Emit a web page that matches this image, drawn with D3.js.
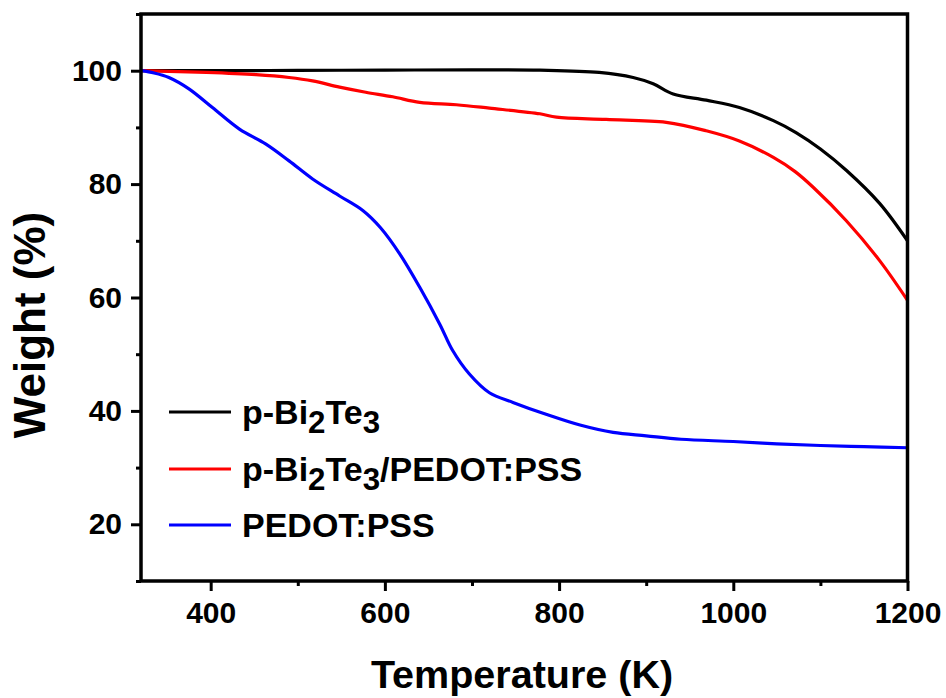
<!DOCTYPE html>
<html>
<head>
<meta charset="utf-8">
<script src="https://cdn.jsdelivr.net/npm/d3@7"></script>
<style>
  html, body { margin: 0; padding: 0; background: #fff; }
  svg { display: block; font-family: "Liberation Sans", Arial, sans-serif; font-weight: bold; }
</style>
</head>
<body>
<svg id="chart" width="946" height="698"></svg>
<script>
// TGA weight-loss curves (Weight % vs temperature in K)
const tempBi2Te3 = [320, 400, 500, 600, 700, 778, 846, 885, 908, 931, 969, 1007, 1046, 1072, 1100, 1130, 1168, 1200];
const weightBi2Te3 = [100, 100, 100.05, 100.1, 100.15, 100.1, 99.7, 98.8, 97.7, 95.9, 94.8, 93.5, 91.2, 89.1, 86.2, 82.4, 76.6, 70.0];

const tempComposite = [320, 395, 452, 490, 517, 548, 578, 609, 640, 682, 720, 778, 797, 854, 923, 969, 1007, 1046, 1071, 1092, 1130, 1168, 1200];
const weightComposite = [100, 99.7, 99.3, 98.8, 98.2, 97.1, 96.2, 95.4, 94.4, 94.0, 93.4, 92.4, 91.8, 91.4, 90.9, 89.4, 87.6, 84.7, 82.2, 79.4, 73.5, 66.5, 59.5];

const tempPedot = [320, 335, 352, 375, 402, 433, 463, 490, 517, 548, 575, 595, 617, 640, 663, 678, 697, 720, 747, 785, 824, 862, 900, 940, 1000, 1050, 1100, 1150, 1200];
const weightPedot = [100, 99.6, 98.8, 96.8, 93.5, 89.7, 87.1, 84.1, 80.9, 77.9, 75.3, 72.3, 67.7, 61.8, 55.3, 50.6, 46.5, 43.2, 41.5, 39.4, 37.5, 36.2, 35.6, 35.0, 34.6, 34.2, 33.9, 33.7, 33.5];

const seriesNames = ["p-Bi2Te3", "p-Bi2Te3/PEDOT:PSS", "PEDOT:PSS"];
const seriesColors = ["#000000", "#ff0000", "#0000ff"];

const xMajorTicks = [400, 600, 800, 1000, 1200];
const xMinorTicks = [500, 700, 900, 1100];
const yMajorTicks = [20, 40, 60, 80, 100];
const yMinorTicks = [10, 30, 50, 70, 90, 110];

const series = [
  { name: seriesNames[0], color: seriesColors[0], pts: tempBi2Te3.map((t, i) => [t, weightBi2Te3[i]]) },
  { name: seriesNames[1], color: seriesColors[1], pts: tempComposite.map((t, i) => [t, weightComposite[i]]) },
  { name: seriesNames[2], color: seriesColors[2], pts: tempPedot.map((t, i) => [t, weightPedot[i]]) }
];

const svg = d3.select("#chart");
const plotLeft = 141, plotRight = 907.5, plotTop = 14, plotBottom = 581;

const x = d3.scaleLinear().domain([320, 1200]).range([plotLeft, plotRight]);
const y = d3.scaleLinear().domain([10, 110]).range([plotBottom, plotTop]);

// curves
const line = d3.line()
  .x(d => x(d[0]))
  .y(d => y(d[1]))
  .curve(d3.curveCatmullRom.alpha(0.5));

svg.append("defs").append("clipPath").attr("id", "plot-clip")
  .append("rect").attr("x", plotLeft).attr("y", plotTop)
  .attr("width", plotRight - plotLeft).attr("height", plotBottom - plotTop);

const plot = svg.append("g").attr("clip-path", "url(#plot-clip)");
series.forEach(s => {
  plot.append("path")
    .datum(s.pts)
    .attr("fill", "none")
    .attr("stroke", s.color)
    .attr("stroke-width", 3.2)
    .attr("stroke-linejoin", "round")
    .attr("d", line);
});

// axes
const tickFont = 30;
function styleAxis(g) {
  g.select(".domain").remove();
  g.selectAll(".tick line").attr("stroke", "#000").attr("stroke-width", 3);
  g.selectAll(".tick text").attr("fill", "#000").style("font-size", tickFont + "px").style("font-weight", "bold")
    .style("font-family", "'Liberation Sans', Arial, sans-serif");
}

svg.append("g").attr("transform", `translate(0,${plotBottom})`)
  .call(d3.axisBottom(x).tickValues(xMajorTicks).tickSize(10).tickPadding(11).tickFormat(d3.format("d")))
  .call(styleAxis);
svg.append("g").attr("transform", `translate(0,${plotBottom})`)
  .call(d3.axisBottom(x).tickValues(xMinorTicks).tickSize(5).tickFormat(""))
  .call(styleAxis);

svg.append("g").attr("transform", `translate(${plotLeft},0)`)
  .call(d3.axisLeft(y).tickValues(yMajorTicks).tickSize(10).tickPadding(9).tickFormat(d3.format("d")))
  .call(styleAxis);
svg.append("g").attr("transform", `translate(${plotLeft},0)`)
  .call(d3.axisLeft(y).tickValues(yMinorTicks).tickSize(5).tickFormat(""))
  .call(styleAxis);

// frame
svg.append("rect")
  .attr("x", plotLeft).attr("y", plotTop)
  .attr("width", plotRight - plotLeft).attr("height", plotBottom - plotTop)
  .attr("fill", "none").attr("stroke", "#000").attr("stroke-width", 3.5);

// axis titles
svg.append("text")
  .attr("x", 522).attr("y", 688)
  .attr("text-anchor", "middle")
  .style("font-size", "39.5px")
  .text("Temperature (K)");

svg.append("text")
  .attr("transform", "translate(45,325) rotate(-90)")
  .attr("text-anchor", "middle")
  .style("font-size", "44px")
  .text("Weight (%)");

// legend
const legendLineY = [412, 469, 525];
const legendFont = 34;
const subShift = 9;
series.forEach((s, i) => {
  const ly = legendLineY[i];
  svg.append("line")
    .attr("x1", 169).attr("x2", 231)
    .attr("y1", ly).attr("y2", ly)
    .attr("stroke", s.color).attr("stroke-width", 3.2);
  const t = svg.append("text")
    .attr("x", 242).attr("y", ly + 12)
    .style("font-size", legendFont + "px");
  // digits in the formula are drawn as subscripts
  const parts = s.name.split(/(\d)/).filter(p => p.length);
  let offset = 0;
  parts.forEach(p => {
    const isSub = /^\d$/.test(p);
    const target = isSub ? subShift : 0;
    const ts = t.append("tspan").attr("dy", target - offset).text(p);
    if (isSub) ts.style("font-size", (legendFont * 0.92) + "px");
    offset = target;
  });
});
</script>
</body>
</html>
